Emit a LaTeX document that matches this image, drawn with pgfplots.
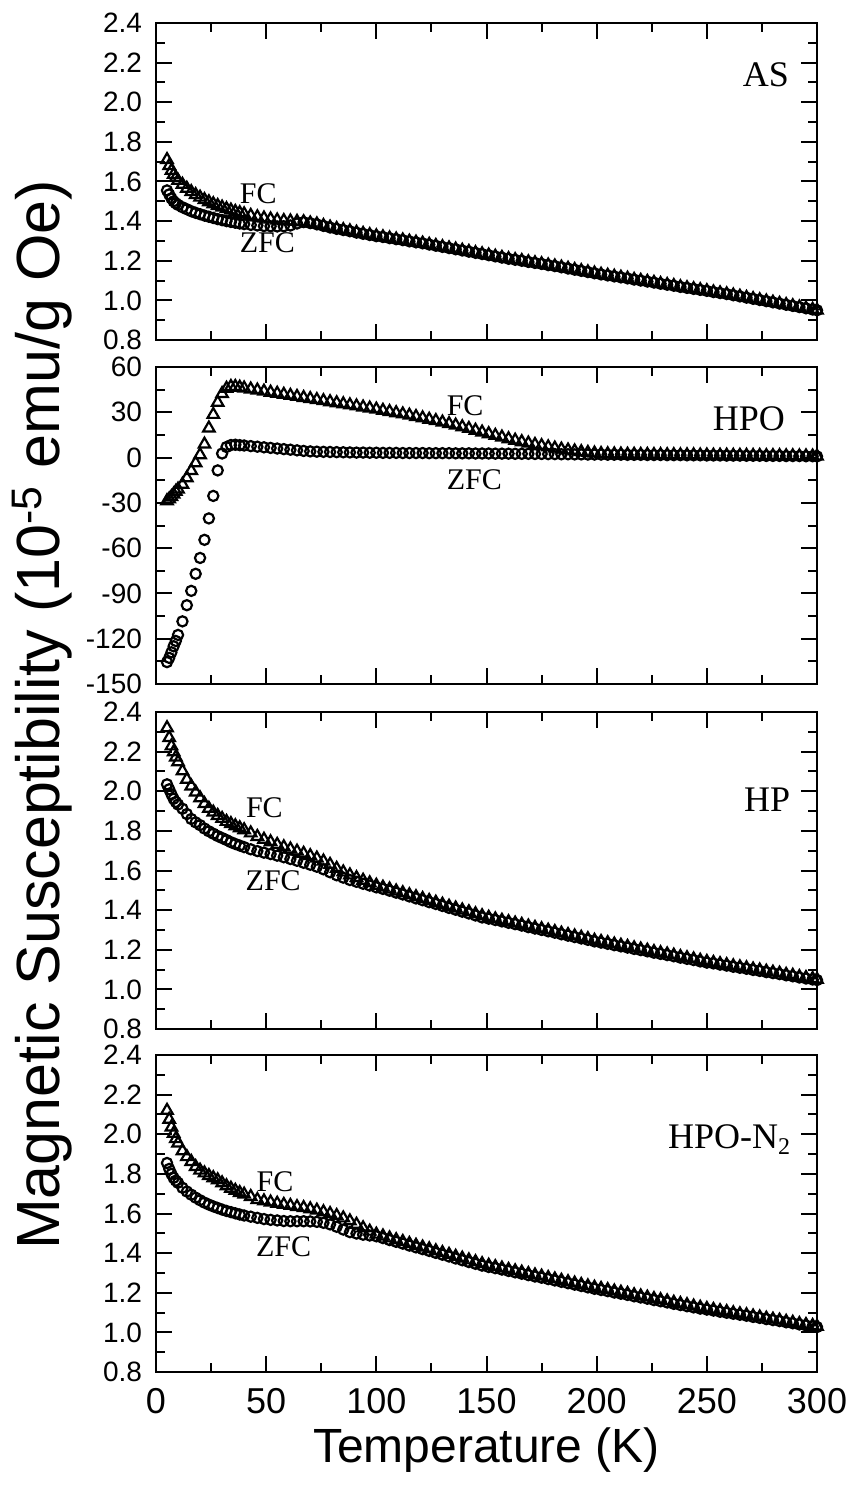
\documentclass[border=0pt]{standalone}
\usepackage{fontspec}
\setmainfont{Liberation Sans}
\newfontfamily\timesfont{Liberation Serif}
\usepackage{pgfplots}
\pgfplotsset{compat=1.18}
\usepackage{pgfplotstable}

\pgfplotstableread{
T fc zfc
5 1.710 1.555
6 1.680 1.535
7 1.655 1.515
8 1.635 1.500
9 1.620 1.490
10 1.605 1.482
12 1.585 1.470
14 1.565 1.460
16 1.548 1.450
18 1.533 1.442
20 1.520 1.435
22 1.508 1.428
24 1.497 1.422
26 1.487 1.416
28 1.478 1.410
30 1.470 1.405
32 1.462 1.400
34 1.455 1.396
36 1.448 1.392
38 1.442 1.388
40 1.436 1.385
43 1.428 1.381
46 1.421 1.378
49 1.415 1.375
52 1.410 1.374
55 1.405 1.373
58 1.402 1.374
61 1.400 1.378
64 1.398 1.388
67 1.396 1.395
70 1.390 1.390
73 1.385 1.384
76 1.377 1.376
79 1.369 1.368
82 1.362 1.361
85 1.356 1.355
88 1.350 1.349
91 1.343 1.342
94 1.337 1.336
97 1.331 1.330
100 1.325 1.324
103 1.320 1.320
106 1.314 1.314
109 1.309 1.309
112 1.304 1.304
115 1.298 1.298
118 1.293 1.293
121 1.288 1.288
124 1.282 1.282
127 1.276 1.276
130 1.270 1.270
133 1.264 1.264
136 1.258 1.258
139 1.252 1.252
142 1.246 1.246
145 1.240 1.240
148 1.234 1.234
151 1.228 1.228
154 1.222 1.222
157 1.216 1.216
160 1.210 1.210
163 1.205 1.205
166 1.200 1.200
169 1.194 1.194
172 1.189 1.189
175 1.184 1.184
178 1.178 1.178
181 1.173 1.173
184 1.167 1.167
187 1.161 1.161
190 1.155 1.155
193 1.149 1.149
196 1.143 1.143
199 1.137 1.137
202 1.131 1.131
205 1.126 1.126
208 1.121 1.121
211 1.116 1.116
214 1.111 1.111
217 1.105 1.105
220 1.100 1.100
223 1.095 1.095
226 1.090 1.090
229 1.084 1.084
232 1.079 1.079
235 1.074 1.074
238 1.068 1.068
241 1.063 1.063
244 1.058 1.058
247 1.053 1.053
250 1.048 1.048
253 1.042 1.042
256 1.037 1.037
259 1.032 1.032
262 1.026 1.026
265 1.020 1.020
268 1.014 1.014
271 1.008 1.008
274 1.002 1.002
277 0.996 0.996
280 0.990 0.990
283 0.984 0.984
286 0.978 0.978
289 0.972 0.972
292 0.966 0.966
295 0.960 0.960
298 0.954 0.954
300 0.950 0.950
}\tabAS

\pgfplotstableread{
T fc zfc
5 -28.7 -135.5
6 -27.5 -132.7
7 -26.0 -129.0
8 -24.3 -125.0
9 -22.5 -121.5
10 -21.0 -117.5
12 -17.8 -108.5
14 -13.5 -97.8
16 -8.7 -88.3
18 -3.6 -77.0
20 1.8 -66.5
22 8.8 -54.5
24 19.5 -40.3
26 28.5 -25.4
28 36.5 -8.5
30 42.3 2.7
32 45.8 7.0
34 47.0 8.3
36 47.0 8.5
38 46.5 8.2
40 46.0 8.0
43 45.3 7.6
46 44.6 7.2
49 43.9 6.8
52 43.2 6.4
55 42.5 6.0
58 41.8 5.6
61 41.1 5.2
64 40.4 4.8
67 39.7 4.4
70 39.0 4.1
73 38.3 3.9
76 37.6 3.8
79 36.9 3.7
82 36.2 3.6
85 35.5 3.5
88 34.8 3.4
91 34.1 3.3
94 33.4 3.3
97 32.7 3.2
100 32.0 3.2
103 31.2 3.1
106 30.4 3.1
109 29.6 3.1
112 28.8 3.0
115 28.0 3.0
118 27.1 3.0
121 26.2 3.0
124 25.3 2.9
127 24.4 2.9
130 23.4 2.9
133 22.4 2.9
136 21.4 2.8
139 20.3 2.8
142 19.2 2.8
145 18.0 2.7
148 16.8 2.7
151 15.7 2.7
154 14.6 2.6
157 13.5 2.6
160 12.4 2.6
163 11.4 2.5
166 10.4 2.5
169 9.5 2.5
172 8.6 2.4
175 7.8 2.4
178 7.0 2.3
181 6.2 2.3
184 5.5 2.2
187 4.9 2.2
190 4.3 2.1
193 3.8 2.1
196 3.3 2.0
199 2.9 2.0
202 2.6 2.0
205 2.4 1.9
208 2.3 1.9
211 2.2 1.9
214 2.1 1.8
217 2.1 1.8
220 2.0 1.8
223 2.0 1.7
226 1.9 1.7
229 1.9 1.7
232 1.8 1.6
235 1.8 1.6
238 1.7 1.6
241 1.7 1.5
244 1.7 1.5
247 1.6 1.5
250 1.6 1.4
253 1.5 1.4
256 1.5 1.4
259 1.5 1.3
262 1.4 1.3
265 1.4 1.3
268 1.4 1.2
271 1.3 1.2
274 1.3 1.2
277 1.2 1.1
280 1.2 1.1
283 1.2 1.1
286 1.1 1.0
289 1.1 1.0
292 1.0 1.0
295 1.0 0.9
298 0.9 0.9
300 0.9 0.8
}\tabHPO

\pgfplotstableread{
T fc zfc
5 2.320 2.035
6 2.270 2.010
7 2.228 1.985
8 2.198 1.962
9 2.172 1.946
10 2.148 1.933
12 2.102 1.912
14 2.060 1.885
16 2.026 1.860
18 1.995 1.843
20 1.966 1.829
22 1.937 1.812
24 1.913 1.798
26 1.894 1.786
28 1.877 1.774
30 1.862 1.764
32 1.847 1.754
34 1.836 1.743
36 1.825 1.734
38 1.815 1.726
40 1.805 1.718
43 1.789 1.707
46 1.771 1.698
49 1.757 1.690
52 1.744 1.683
55 1.731 1.675
58 1.719 1.667
61 1.708 1.658
64 1.697 1.649
67 1.686 1.639
70 1.674 1.629
73 1.662 1.619
76 1.647 1.606
79 1.630 1.591
82 1.610 1.576
85 1.592 1.564
88 1.577 1.552
91 1.563 1.543
94 1.550 1.533
97 1.537 1.524
100 1.525 1.515
103 1.515 1.507
106 1.506 1.498
109 1.496 1.488
112 1.487 1.479
115 1.477 1.469
118 1.467 1.459
121 1.458 1.450
124 1.448 1.440
127 1.439 1.431
130 1.429 1.421
133 1.419 1.411
136 1.410 1.402
139 1.400 1.392
142 1.391 1.383
145 1.381 1.373
148 1.371 1.363
151 1.363 1.357
154 1.355 1.350
157 1.348 1.343
160 1.341 1.336
163 1.334 1.329
166 1.327 1.322
169 1.319 1.314
172 1.312 1.307
175 1.305 1.300
178 1.298 1.293
181 1.291 1.286
184 1.283 1.278
187 1.276 1.271
190 1.269 1.264
193 1.262 1.257
196 1.255 1.250
199 1.247 1.242
202 1.241 1.236
205 1.235 1.230
208 1.228 1.223
211 1.222 1.217
214 1.216 1.211
217 1.209 1.204
220 1.203 1.198
223 1.197 1.192
226 1.190 1.185
229 1.184 1.179
232 1.178 1.173
235 1.172 1.167
238 1.165 1.160
241 1.159 1.154
244 1.153 1.148
247 1.146 1.141
250 1.140 1.135
253 1.135 1.131
256 1.129 1.125
259 1.124 1.120
262 1.118 1.114
265 1.113 1.109
268 1.108 1.104
271 1.102 1.098
274 1.097 1.093
277 1.091 1.087
280 1.086 1.082
283 1.081 1.077
286 1.075 1.071
289 1.070 1.066
292 1.064 1.060
295 1.059 1.055
298 1.054 1.050
300 1.050 1.047
}\tabHP

\pgfplotstableread{
T fc zfc
5 2.120 1.855
6 2.075 1.825
7 2.036 1.800
8 2.004 1.780
9 1.977 1.766
10 1.955 1.755
12 1.916 1.730
14 1.886 1.711
16 1.862 1.695
18 1.836 1.680
20 1.818 1.667
22 1.804 1.655
24 1.791 1.645
26 1.780 1.636
28 1.769 1.628
30 1.754 1.620
32 1.739 1.613
34 1.727 1.607
36 1.716 1.601
38 1.705 1.595
40 1.697 1.590
43 1.685 1.584
46 1.670 1.578
49 1.663 1.572
52 1.657 1.568
55 1.651 1.565
58 1.645 1.562
61 1.640 1.561
64 1.634 1.561
67 1.629 1.561
70 1.623 1.560
73 1.616 1.558
76 1.608 1.553
79 1.599 1.545
82 1.589 1.533
85 1.577 1.519
88 1.562 1.506
91 1.545 1.499
94 1.527 1.493
97 1.510 1.489
100 1.495 1.485
103 1.486 1.476
106 1.476 1.466
109 1.467 1.457
112 1.458 1.448
115 1.448 1.438
118 1.439 1.429
121 1.430 1.420
124 1.421 1.411
127 1.411 1.401
130 1.402 1.392
133 1.393 1.383
136 1.383 1.373
139 1.374 1.364
142 1.365 1.355
145 1.356 1.346
148 1.346 1.337
151 1.338 1.330
154 1.331 1.324
157 1.324 1.317
160 1.317 1.310
163 1.310 1.303
166 1.303 1.296
169 1.296 1.289
172 1.289 1.282
175 1.283 1.276
178 1.276 1.269
181 1.269 1.262
184 1.262 1.255
187 1.255 1.248
190 1.248 1.241
193 1.241 1.234
196 1.234 1.227
199 1.227 1.220
202 1.221 1.214
205 1.215 1.208
208 1.208 1.201
211 1.202 1.195
214 1.196 1.189
217 1.189 1.182
220 1.183 1.176
223 1.177 1.170
226 1.170 1.163
229 1.164 1.157
232 1.158 1.151
235 1.151 1.144
238 1.145 1.138
241 1.139 1.132
244 1.132 1.126
247 1.126 1.120
250 1.120 1.115
253 1.115 1.110
256 1.109 1.104
259 1.104 1.099
262 1.098 1.094
265 1.093 1.089
268 1.088 1.084
271 1.082 1.078
274 1.077 1.073
277 1.071 1.067
280 1.066 1.062
283 1.061 1.057
286 1.055 1.051
289 1.050 1.046
292 1.044 1.040
295 1.039 1.035
298 1.034 1.030
300 1.030 1.027
}\tabHPN

\pgfplotsset{
  panel/.style={
    width=330.5pt, height=158.5pt, scale only axis,
    anchor=north west,
    xmin=0, xmax=300,
    xtick={0,50,100,150,200,250,300}, minor x tick num=1,
    xticklabels={},
    tick align=inside,
    major tick length=8pt, minor tick length=4.5pt,
    axis line style={line width=1pt},
    every tick/.style={black, line width=1pt},
    clip=false,
    /pgf/number format/assume math mode=true,
    yticklabel style={font=\fontsize{14}{14}\selectfont, xshift=-3.5pt},
    xticklabel style={font=\fontsize{18}{18}\selectfont, yshift=-4.5pt},
  },
  ysmall/.style={
    ymin=0.8, ymax=2.4,
    ytick={0.8,1.0,1.2,1.4,1.6,1.8,2.0,2.2,2.4}, minor y tick num=1,
    yticklabel style={/pgf/number format/.cd, fixed, fixed zerofill, precision=1},
  },
  fcm/.style={only marks, mark=triangle, mark size=3.3pt, mark options={line width=1.1pt, black}},
  zfcm/.style={only marks, mark=o, mark size=2.55pt, mark options={line width=1.1pt, black}},
}
\tikzset{
  lbl/.style={font=\timesfont\fontsize{15}{15}\selectfont, inner sep=0pt},
  sname/.style={font=\timesfont\fontsize{18}{18}\selectfont, inner sep=0pt, anchor=east},
}

\begin{document}
\begin{tikzpicture}
\path[use as bounding box] (-78pt,11.5pt) rectangle (346pt,-734.5pt);

\begin{axis}[panel, ysmall, at={(0pt,0pt)}]
\addplot[fcm] table[x=T, y=fc] {\tabAS};
\addplot[zfcm] table[x=T, y=zfc] {\tabAS};
\node[sname] at (axis cs:287.4,2.14) {AS};
\node[lbl] at (axis cs:46.4,1.54) {FC};
\node[lbl] at (axis cs:50.5,1.293) {ZFC};
\end{axis}

\begin{axis}[panel, at={(0pt,-172pt)}, ymin=-150, ymax=60,
  ytick={-150,-120,-90,-60,-30,0,30,60}, minor y tick num=1]
\addplot[fcm] table[x=T, y=fc] {\tabHPO};
\addplot[zfcm] table[x=T, y=zfc] {\tabHPO};
\node[sname] at (axis cs:285.6,26) {HPO};
\node[lbl] at (axis cs:140.3,34.1) {FC};
\node[lbl] at (axis cs:144.5,-14.7) {ZFC};
\end{axis}

\begin{axis}[panel, ysmall, at={(0pt,-344.5pt)}]
\addplot[fcm] table[x=T, y=fc] {\tabHP};
\addplot[zfcm] table[x=T, y=zfc] {\tabHP};
\node[sname] at (axis cs:288,1.956) {HP};
\node[lbl] at (axis cs:49.2,1.915) {FC};
\node[lbl] at (axis cs:53.2,1.547) {ZFC};
\end{axis}

\begin{axis}[panel, ysmall, at={(0pt,-516pt)},
  xticklabels={0,50,100,150,200,250,300}]
\addplot[fcm] table[x=T, y=fc] {\tabHPN};
\addplot[zfcm] table[x=T, y=zfc] {\tabHPN};
\node[sname] at (axis cs:288,1.972) {HPO-N\raisebox{-0.35ex}{\fontsize{12}{12}\selectfont 2}};
\node[lbl] at (axis cs:54,1.758) {FC};
\node[lbl] at (axis cs:57.9,1.431) {ZFC};
\end{axis}

\node[rotate=90, font=\fontsize{30.5}{30.5}\selectfont] at (-57pt,-346pt)
  {Magnetic Susceptibility (10\textsuperscript{-5} emu/g Oe)};
\node[font=\fontsize{24}{24}\selectfont] at (165.25pt,-713.5pt) {Temperature (K)};
\end{tikzpicture}
\end{document}
